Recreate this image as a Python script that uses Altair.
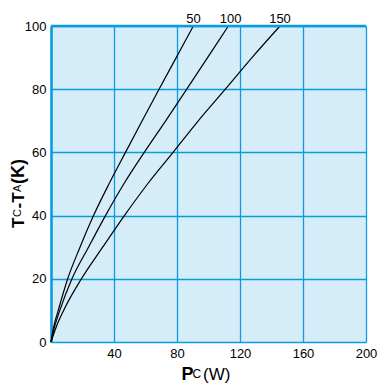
import altair as alt
import pandas as pd

T_levels = [0, 5, 10, 20, 30, 40, 50, 60, 70, 80, 90, 100]
P_50 = [0, 1.8, 4.6, 10.6, 18.4, 27.0, 36.8, 47.3, 57.9, 68.6, 79.5, 90.4]
P_100 = [0, 2.4, 5.6, 13.3, 23.8, 34.6, 46.2, 59.2, 72.8, 86.2, 99.4, 112.6]
P_150 = [0, 3.5, 8.0, 19.3, 32.8, 46.6, 61.3, 77.5, 93.5, 110.7, 127.6, 145.4]
curve_names = ["50", "100", "150"]
x_ticks = list(range(0, 201, 20))
y_ticks = list(range(0, 101, 10))

rows = []
for name, ps in zip(curve_names, [P_50, P_100, P_150]):
    for p, t in zip(ps, T_levels):
        rows.append({"curve": name, "P": p, "T": t})
df = pd.DataFrame(rows)
labels = pd.DataFrame({"curve": curve_names,
                       "P": [P_50[-1], P_100[-1] + 1.5, P_150[-1]],
                       "T": [T_levels[-1]] * 3})

GRID = "#0a9be0"
BG = "#d5ecf9"
FONT = "Liberation Sans"

xs = alt.Scale(domain=[0, 200], nice=False)
ys = alt.Scale(domain=[0, 100], nice=False)

x_axis = alt.Axis(values=x_ticks,
                  labelExpr="datum.value % 40 == 0 && datum.value > 0 ? datum.label : ''",
                  title=None, grid=True, gridColor=GRID, gridWidth=1.3, gridOpacity=1,
                  domain=False, ticks=False, labelFont=FONT, labelFontSize=13,
                  labelColor="black", labelPadding=5, labelFlush=False)
y_axis = alt.Axis(values=y_ticks,
                  labelExpr="datum.value % 20 == 0 ? datum.label : ''",
                  title=None, grid=True, gridColor=GRID, gridWidth=1.3, gridOpacity=1,
                  domain=True, domainColor=GRID, domainWidth=2.5, ticks=False,
                  labelFont=FONT, labelFontSize=13, labelColor="black", labelPadding=5,
                  labelFlush=False)

lines = alt.Chart(df).mark_line(color="black", strokeWidth=1.2, interpolate="monotone").encode(
    x=alt.X("P:Q", scale=xs, axis=x_axis),
    y=alt.Y("T:Q", scale=ys, axis=y_axis),
    detail="curve:N",
)

top_rule = alt.Chart(pd.DataFrame({"T": [100]})).mark_rule(color=GRID, strokeWidth=2.5).encode(
    y=alt.Y("T:Q", scale=ys), x=alt.datum(0), x2=alt.datum(200)
)

curve_text = alt.Chart(labels).mark_text(font=FONT, fontSize=13, baseline="alphabetic",
                                         align="center", dy=-3, color="black").encode(
    x=alt.X("P:Q", scale=xs), y=alt.Y("T:Q", scale=ys), text="curve:N"
)


def txt(s, x, y, size, bold=False, angle=0):
    return alt.Chart(pd.DataFrame({"s": [s]})).mark_text(
        font=FONT, fontSize=size, fontWeight="bold" if bold else "normal",
        align="left", baseline="alphabetic", angle=angle, color="black"
    ).encode(text="s:N", x=alt.value(x), y=alt.value(y))


# x title: Pc(W)
xt = [txt("P", 130.5, 354, 18, True), txt("C", 141.5, 351.5, 12), txt("(W)", 152, 354, 17)]
# y title: Tc-Ta(K), rotated
BX = -27.5
yt = [txt("T", BX, 202, 17, True, 270), txt("C", BX - 2.5, 191, 11, False, 270),
      txt("-T", BX, 182.5, 17, True, 270), txt("A", BX - 2.5, 166, 11, False, 270),
      txt("(K)", BX, 158, 18, True, 270)]

chart = alt.layer(lines, top_rule, curve_text, *xt, *yt).properties(
    width=315, height=316,
    padding={"left": 43, "top": 18, "right": 15, "bottom": 44},
    autosize=alt.AutoSizeParams(type="none"),
).configure_view(fill=BG, stroke="transparent")

chart.save("out.html", embed_options={"renderer": "svg", "actions": False})
